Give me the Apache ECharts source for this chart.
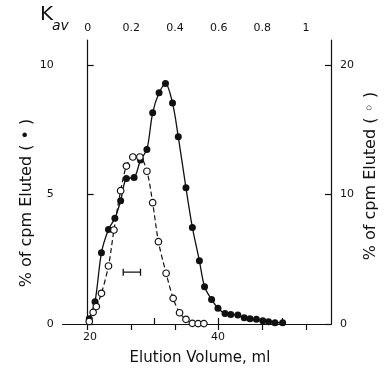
<!DOCTYPE html>
<html><head><meta charset="utf-8">
<script src="https://cdn.jsdelivr.net/npm/echarts@6/dist/echarts.min.js"></script>
<style>html,body{margin:0;padding:0;background:#fff}#c{width:387px;height:370px}</style>
</head><body><div id="c"></div>
<script>
// Filled circles: % of cpm eluted (left axis)
const filledVol = [19.9, 20.8, 21.8, 22.9, 23.9, 24.8, 25.7, 26.9, 27.9, 28.9, 29.8, 30.8, 31.8, 32.9, 33.8, 35.0, 36.0, 37.1, 37.9, 39.0, 40.0, 41.1, 42.0, 43.1, 44.1, 45.0, 46.0, 47.0, 47.9, 48.9, 50.1];
const filledPct = [0.2, 0.86, 2.75, 3.65, 4.08, 4.76, 5.62, 5.66, 6.33, 6.74, 8.16, 8.93, 9.29, 8.54, 7.23, 5.26, 3.73, 2.44, 1.44, 0.95, 0.61, 0.41, 0.37, 0.35, 0.24, 0.2, 0.18, 0.13, 0.09, 0.05, 0.05];
// Open circles: % of cpm eluted (right axis)
const openVol = [19.9, 20.5, 21.0, 21.8, 22.9, 23.75, 24.8, 25.7, 26.7, 27.8, 28.9, 29.8, 30.7, 31.9, 33.0, 34.0, 35.0, 36.0, 36.9, 37.8];
const openPct = [0.2, 0.9, 1.35, 2.37, 4.48, 7.26, 10.3, 12.2, 12.9, 12.9, 11.8, 9.37, 6.36, 3.92, 1.98, 0.87, 0.36, 0.05, 0.03, 0.03];
// Error bar
const barVol = [25.2, 27.9];
const barPct = [2.0, 2.0];
// Axis ticks
const volTicks = [20, 30, 40, 50];
const volLabels = [20, 40];
const kavTicks = [0, 0.2, 0.4, 0.6, 0.8, 1];
const leftTicks = [0, 5, 10];
const rightTicks = [0, 10, 20];
const V0 = 19.65, V1 = 53.75; // ml at Kav = 0 and Kav = 1
const XMIN = 15.75, XMAX = 57.65, YMAX = 10.97;

const chart = echarts.init(document.getElementById('c'));
const F = 'DejaVu Sans';
const line = {show: true, lineStyle: {color: '#111', width: 1.2}};
const tick = (vals) => ({show: true, inside: true, length: 6, lineStyle: {color: '#111', width: 1.2}, customValues: vals});
const lab = (vals, extra) => Object.assign({show: true, color: '#111', fontFamily: F, fontSize: 11, customValues: vals}, extra || {});
chart.setOption({
  animation: false,
  backgroundColor: '#fff',
  grid: {left: 62.7, right: 56, top: 40, bottom: 46},
  xAxis: [
    {type: 'value', position: 'bottom', min: XMIN, max: XMAX, axisLine: line, axisTick: tick(volTicks),
     axisLabel: lab(volLabels, {margin: 8}), splitLine: {show: false}},
    {type: 'value', position: 'top', min: (XMIN - V0) / (V1 - V0), max: (XMAX - V0) / (V1 - V0),
     axisLine: line, axisTick: tick(kavTicks),
     axisLabel: lab(kavTicks, {margin: 6, formatter: v => String(Math.round(v * 10) / 10)}), splitLine: {show: false}}
  ],
  yAxis: [
    {type: 'value', position: 'left', min: 0, max: YMAX, axisLine: line, axisTick: tick(leftTicks),
     axisLabel: lab(leftTicks, {margin: 9}), splitLine: {show: false}},
    {type: 'value', position: 'right', min: 0, max: YMAX * 2, axisLine: line, axisTick: tick(rightTicks),
     axisLabel: lab(rightTicks, {margin: 9}), splitLine: {show: false}}
  ],
  series: [
    {type: 'line', xAxisIndex: 0, yAxisIndex: 0, data: filledVol.map((v, i) => [v, filledPct[i]]),
     symbol: 'circle', symbolSize: 7, smooth: 0.3, z: 2,
     lineStyle: {color: '#111', width: 1.3}, itemStyle: {color: '#111', borderWidth: 0}},
    {type: 'line', xAxisIndex: 0, yAxisIndex: 1, data: openVol.map((v, i) => [v, openPct[i]]),
     symbol: 'circle', symbolSize: 6.5, smooth: 0.3, z: 3,
     lineStyle: {color: '#111', width: 1.2, type: [5, 3]}, itemStyle: {color: '#fff', borderColor: '#111', borderWidth: 1.2}},
    {type: 'line', xAxisIndex: 0, yAxisIndex: 0, data: barVol.map((v, i) => [v, barPct[i]]),
     symbol: 'rect', symbolSize: [1.3, 7], z: 4,
     lineStyle: {color: '#111', width: 1.3}, itemStyle: {color: '#111'}}
  ],
  graphic: [
    {type: 'text', left: 40, top: 5, style: {text: 'K', font: '20px "DejaVu Sans"', fill: '#111'}},
    {type: 'text', left: 52, top: 19, style: {text: 'av', font: 'italic 14px "DejaVu Sans"', fill: '#111'}},
    {type: 'text', x: 27, y: 203, rotation: Math.PI / 2, style: {text: '% of cpm Eluted ( • )', font: '16px "DejaVu Sans"', fill: '#111', align: 'center', verticalAlign: 'middle'}},
    {type: 'text', x: 371, y: 176, rotation: Math.PI / 2, style: {text: '% of cpm Eluted ( ◦ )', font: '16px "DejaVu Sans"', fill: '#111', align: 'center', verticalAlign: 'middle'}},
    {type: 'text', x: 200, y: 358, style: {text: 'Elution Volume, ml', font: '15px "DejaVu Sans"', fill: '#111', align: 'center', verticalAlign: 'middle'}}
  ]
});
</script></body></html>
